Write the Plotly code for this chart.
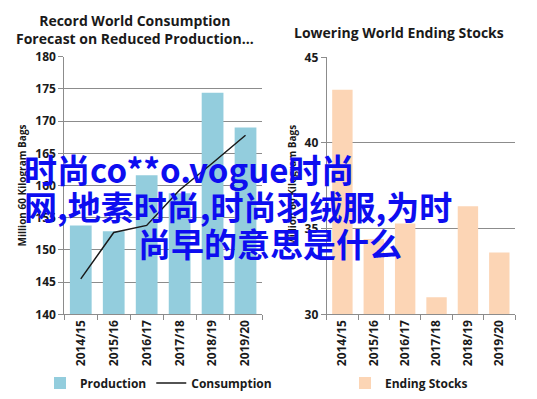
import plotly.graph_objects as go

# ---- data ----
years = ["2014/15", "2015/16", "2016/17", "2017/18", "2018/19", "2019/20"]
production = [153.8, 152.9, 161.6, 158.8, 174.4, 169.0]
consumption = [145.5, 152.7, 153.8, 159.3, 163.5, 167.8]
ending_stocks = [43.1, 34.4, 35.3, 31.0, 36.3, 33.6]

left_title = "Record World Consumption<br>Forecast on Reduced Production…"
right_title = "Lowering World Ending Stocks"
y_title = "Million 60 Kilogram Bags"
overlay_lines = ["时尚co**o.vogue时尚", "网,地素时尚,时尚羽绒服,为时", "尚早的意思是什么"]

FONT = "'Open Sans', 'Liberation Sans', sans-serif"
GRID = "#8c8c8c"
INK = "#1a1a1a"
W, H = 537, 399

fig = go.Figure()
fig.add_trace(go.Bar(x=years, y=production, name="Production",
                     marker=dict(color="#93cddd", line=dict(width=0)),
                     width=0.66, xaxis="x", yaxis="y", legend="legend"))
fig.add_trace(go.Scatter(x=years, y=consumption, name="Consumption", mode="lines",
                         line=dict(color=INK, width=1.5),
                         xaxis="x", yaxis="y", legend="legend"))
fig.add_trace(go.Bar(x=years, y=ending_stocks, name="Ending Stocks",
                     marker=dict(color="#fcd5b5", line=dict(width=0)),
                     width=0.65, xaxis="x2", yaxis="y2", legend="legend2"))

def px_x(p):
    return p / W

def px_y(p):
    return (H - p) / H

tickfont = dict(family=FONT, size=12, color=INK, weight=700)
xtickfont = dict(family=FONT, size=12, color=INK, weight=700)

common_x = dict(type="category", tickangle=-90, showgrid=False, showline=True,
                linecolor=GRID, linewidth=1, ticks="outside", ticklen=5,
                tickcolor=GRID, tickson="boundaries", tickfont=xtickfont,
                fixedrange=True, automargin=False)
common_y = dict(showgrid=True, gridcolor=GRID, gridwidth=1, showline=True,
                linecolor=GRID, linewidth=1, ticks="outside", ticklen=5,
                tickcolor=GRID, tickfont=tickfont, zeroline=False, automargin=False,
                title=dict(text=y_title,
                           font=dict(family=FONT, size=10, color=INK, weight=700),
                           standoff=6))

legfont = dict(family=FONT, size=12, color=INK, weight=700)

fig.update_layout(
    width=W, height=H,
    margin=dict(l=0, r=0, t=0, b=0, autoexpand=False),
    paper_bgcolor="white", plot_bgcolor="white",
    font=dict(family=FONT, color=INK),
    xaxis=dict(domain=[px_x(64.3), px_x(262)], anchor="y", **common_x),
    yaxis=dict(domain=[px_y(314.3), px_y(56.7)], anchor="x", range=[140, 180],
               dtick=5, **common_y),
    xaxis2=dict(domain=[px_x(326.7), px_x(515)], anchor="y2", **common_x),
    yaxis2=dict(domain=[px_y(314.3), px_y(57.3)], anchor="x2", range=[30, 45],
                dtick=5, **common_y),
    showlegend=True,
    legend=dict(orientation="h", x=px_x(40), y=px_y(383), yanchor="middle",
                xanchor="left", font=legfont,
                itemwidth=30, tracegroupgap=0, bgcolor="rgba(0,0,0,0)"),
    legend2=dict(orientation="h", x=px_x(345), y=px_y(383), yanchor="middle",
                 xanchor="left", font=legfont,
                 itemwidth=30, bgcolor="rgba(0,0,0,0)"),
)

fig.add_annotation(text=left_title, x=px_x(135), y=px_y(29),
                   xref="paper", yref="paper", showarrow=False, xanchor="center",
                   yanchor="middle",
                   font=dict(family=FONT, size=14, color=INK, weight=700))
fig.add_annotation(text=right_title, x=px_x(398.5), y=px_y(32),
                   xref="paper", yref="paper", showarrow=False, xanchor="center",
                   yanchor="middle",
                   font=dict(family=FONT, size=14, color=INK, weight=700))

overlay_pos = [(22, 169), (22, 206), (136, 243)]
for txt, (ox, oy) in zip(overlay_lines, overlay_pos):
    fig.add_annotation(text=txt, x=px_x(ox), y=px_y(oy),
                       xref="paper", yref="paper", showarrow=False, xanchor="left",
                       yanchor="middle",
                       font=dict(family="'Noto Sans CJK SC', 'Noto Sans', sans-serif",
                                 size=33, color="#0d0df0", weight=700))

fig.write_html("out.html",
               config={"displayModeBar": False},
               post_script="document.body.style.margin='0';document.body.style.padding='0';")
